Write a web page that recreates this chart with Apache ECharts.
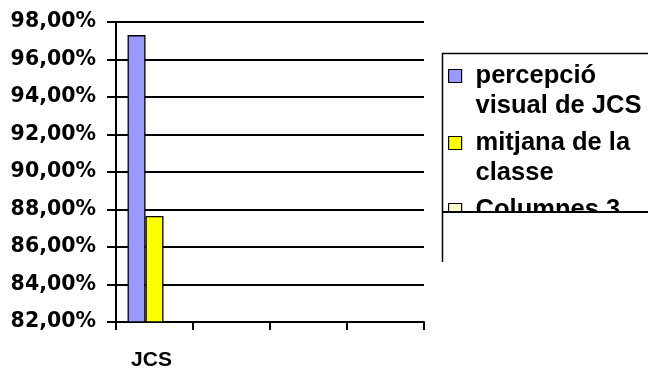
<!DOCTYPE html>
<html>
<head>
<meta charset="utf-8">
<script src="https://cdn.jsdelivr.net/npm/echarts@6/dist/echarts.min.js"></script>
<style>
  html, body { margin: 0; padding: 0; background: #fff; }
  #chart { width: 648px; height: 371px; }
</style>
</head>
<body>
<div id="chart"></div>
<script>
// Categories along the horizontal axis (only the first one carries data)
const categories = ['JCS', '', '', ''];

// Series names and the lines of their legend captions
const seriesNames = ['percepció visual de JCS', 'mitjana de la classe', 'Columnes 3'];
const legendCaptionLines = [['percepció', 'visual de JCS'], ['mitjana de la', 'classe'], ['Columnes 3', '\u00a0']];

// Values in percent
const perceptionValues = [97.3, null, null, null];
const classAverageValues = [87.65, null, null, null];
const column3Values = [null, null, null, null];

// Value axis range
const yMin = 82;
const yMax = 98;
const yStep = 2;

const colors = ['#9999FF', '#FFFF00', '#FFFFCC'];

const chart = echarts.init(document.getElementById('chart'), null, { renderer: 'canvas' });

// Legend text is centred on its icon, so a blank leading line keeps the
// first caption line level with the swatch.
const captionByName = {};
seriesNames.forEach((n, i) => {
  captionByName[n] = ['\u00a0'].concat(legendCaptionLines[i]).join('\n');
});

const barStyle = (c) => ({ color: c, borderColor: '#000', borderWidth: 1.3 });

chart.setOption({
  animation: false,
  backgroundColor: '#fff',
  grid: { left: 116, right: 224, top: 22, bottom: 47, containLabel: false },
  xAxis: {
    type: 'category',
    data: categories,
    boundaryGap: true,
    axisLine: { show: true, lineStyle: { color: '#000', width: 2 } },
    axisTick: { show: true, length: 8, lineStyle: { color: '#000', width: 2 } },
    axisLabel: {
      color: '#000', fontFamily: 'Liberation Sans, Arial, sans-serif',
      fontWeight: 'bold', fontSize: 21, margin: 28, padding: [0, 6, 0, 0]
    },
    splitLine: { show: false }
  },
  yAxis: {
    type: 'value',
    min: yMin, max: yMax, interval: yStep,
    axisLine: { show: true, lineStyle: { color: '#000', width: 2 } },
    axisTick: { show: true, length: 9, lineStyle: { color: '#000', width: 2 } },
    axisLabel: {
      color: '#000', fontFamily: 'DejaVu Sans, sans-serif',
      fontWeight: 'bold', fontSize: 20.5, margin: 20,
      formatter: (v) => v.toFixed(2).replace('.', ',') + '%'
    },
    splitLine: { show: true, lineStyle: { color: '#000', width: 2 } }
  },
  legend: {
    orient: 'vertical',
    left: 448, top: 31,
    padding: 0,
    itemGap: -23,
    itemWidth: 13, itemHeight: 13,
    icon: 'rect',
    selectedMode: false,
    itemStyle: { borderColor: '#000', borderWidth: 1.2 },
    formatter: (name) => captionByName[name] || name,
    textStyle: {
      color: '#000', fontFamily: 'Liberation Sans, Arial, sans-serif',
      fontWeight: 'bold', fontSize: 25.5, lineHeight: 30,
      padding: [0, 0, 0, 9]
    },
    data: seriesNames
  },
  series: [
    { name: seriesNames[0], type: 'bar', data: perceptionValues, itemStyle: barStyle(colors[0]),
      barGap: '0%', barCategoryGap: '30%' },
    { name: seriesNames[1], type: 'bar', data: classAverageValues, itemStyle: barStyle(colors[1]),
      barGap: '0%', barCategoryGap: '30%' },
    { name: seriesNames[2], type: 'bar', data: column3Values, itemStyle: barStyle(colors[2]),
      barGap: '0%', barCategoryGap: '30%' }
  ],
  graphic: [
    // lower part of the legend frame, blanked below the cut line
    { type: 'rect', z: 100, shape: { x: 443, y: 213, width: 205, height: 50 }, style: { fill: '#fff' } },
    { type: 'line', z: 101, shape: { x1: 442, y1: 212, x2: 648, y2: 212 }, style: { stroke: '#000', lineWidth: 2 } },
    // legend frame: left and top edges
    { type: 'polyline', z: 101, shape: { points: [[442.5, 262], [442.5, 53.5], [648, 53.5]] },
      style: { stroke: '#000', lineWidth: 1.5, fill: null } }
  ]
});
</script>
</body>
</html>
